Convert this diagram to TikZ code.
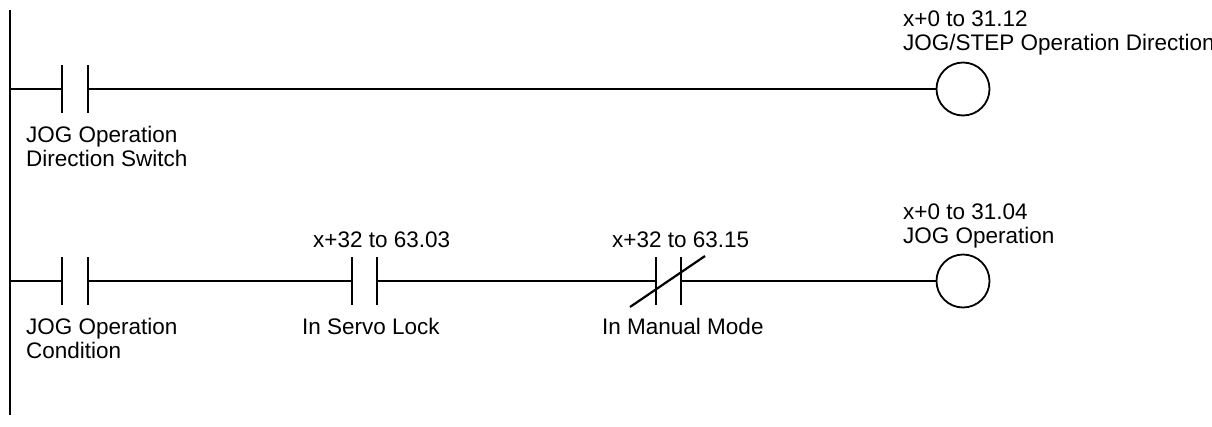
\documentclass[tikz,border=0pt]{standalone}
\usepackage{fontspec}
\setmainfont{Liberation Sans}
\begin{document}
\begin{tikzpicture}[x=1pt,y=-1pt,
  wire/.style={line width=1.2pt},
  bar/.style={line width=2.2pt},
  lbl/.style={anchor=base west,inner sep=0pt,font=\fontsize{22.5}{24}\selectfont}]
\useasboundingbox (0,0) rectangle (1212,426);
\draw[line width=1.6pt] (10,10) -- (10,415);
% rung 1
\coordinate (r1a) at (10,89);
\coordinate (c1l) at (62,89);
\coordinate (c1r) at (88,89);
\node[circle,draw,line width=1.8pt,minimum size=53pt,inner sep=0pt] (k1) at (963,89) {};
\draw[wire] (r1a) -- (c1l) (c1r) -- (k1.west);
\draw[bar] (62,65) -- (62,113) (88,65) -- (88,113);
\node[lbl] (t1) at (26,142) {JOG Operation};
\node[lbl] (t2) at (26,166) {Direction Switch};
\node[lbl] (t3) at (903,26) {x+0 to 31.12};
\node[lbl] (t4) at (903,50) {JOG/STEP Operation Direction};
% rung 2
\coordinate (r2a) at (10,281);
\node[circle,draw,line width=1.8pt,minimum size=53pt,inner sep=0pt] (k2) at (963,281) {};
\draw[wire] (r2a) -- (62,281) (88,281) -- (352,281) (377,281) -- (656,281) (681,281) -- (k2.west);
\draw[bar] (62,257) -- (62,305) (88,257) -- (88,305);
\draw[bar] (352,257) -- (352,305) (377,257) -- (377,305);
\draw[bar] (656,257) -- (656,305) (681,257) -- (681,305);
\draw[bar] (630,307) -- (705,256);
\node[lbl] (t5) at (26,334) {JOG Operation};
\node[lbl] (t6) at (26,358) {Condition};
\node[lbl] (t7) at (313,247) {x+32 to 63.03};
\node[lbl] (t8) at (302,334) {In Servo Lock};
\node[lbl] (t9) at (612,247) {x+32 to 63.15};
\node[lbl] (t10) at (602,334) {In Manual Mode};
\node[lbl] (t11) at (903,219) {x+0 to 31.04};
\node[lbl] (t12) at (903,243) {JOG Operation};
\end{tikzpicture}
\end{document}
